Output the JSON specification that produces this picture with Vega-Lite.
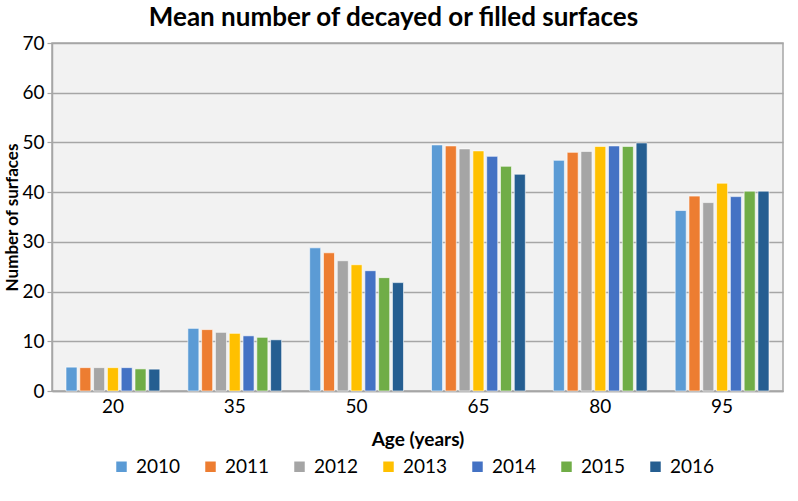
{
  "$schema": "https://vega.github.io/schema/vega-lite/v6.json",
  "autosize": {"type": "none"},
  "width": 731,
  "height": 348,
  "padding": {"left": 52, "top": 43, "right": 15, "bottom": 110},
  "background": "white",
  "title": {"text": "Mean number of decayed or filled surfaces", "font": "Lato", "fontSize": 26, "fontWeight": "bold", "color": "#000000", "anchor": "middle", "frame": "bounds", "offset": 3},
  "data": {"values": [
    {"age": "20", "year": "2010", "value": 4.8},
    {"age": "20", "year": "2011", "value": 4.7},
    {"age": "20", "year": "2012", "value": 4.7},
    {"age": "20", "year": "2013", "value": 4.7},
    {"age": "20", "year": "2014", "value": 4.7},
    {"age": "20", "year": "2015", "value": 4.45},
    {"age": "20", "year": "2016", "value": 4.4},
    {"age": "35", "year": "2010", "value": 12.6},
    {"age": "35", "year": "2011", "value": 12.35},
    {"age": "35", "year": "2012", "value": 11.8},
    {"age": "35", "year": "2013", "value": 11.6},
    {"age": "35", "year": "2014", "value": 11.1},
    {"age": "35", "year": "2015", "value": 10.8},
    {"age": "35", "year": "2016", "value": 10.3},
    {"age": "50", "year": "2010", "value": 28.8},
    {"age": "50", "year": "2011", "value": 27.8},
    {"age": "50", "year": "2012", "value": 26.2},
    {"age": "50", "year": "2013", "value": 25.4},
    {"age": "50", "year": "2014", "value": 24.2},
    {"age": "50", "year": "2015", "value": 22.8},
    {"age": "50", "year": "2016", "value": 21.8},
    {"age": "65", "year": "2010", "value": 49.5},
    {"age": "65", "year": "2011", "value": 49.3},
    {"age": "65", "year": "2012", "value": 48.7},
    {"age": "65", "year": "2013", "value": 48.3},
    {"age": "65", "year": "2014", "value": 47.2},
    {"age": "65", "year": "2015", "value": 45.2},
    {"age": "65", "year": "2016", "value": 43.6},
    {"age": "80", "year": "2010", "value": 46.4},
    {"age": "80", "year": "2011", "value": 48.0},
    {"age": "80", "year": "2012", "value": 48.2},
    {"age": "80", "year": "2013", "value": 49.2},
    {"age": "80", "year": "2014", "value": 49.3},
    {"age": "80", "year": "2015", "value": 49.2},
    {"age": "80", "year": "2016", "value": 49.9},
    {"age": "95", "year": "2010", "value": 36.3},
    {"age": "95", "year": "2011", "value": 39.2},
    {"age": "95", "year": "2012", "value": 37.9},
    {"age": "95", "year": "2013", "value": 41.8},
    {"age": "95", "year": "2014", "value": 39.1},
    {"age": "95", "year": "2015", "value": 40.2},
    {"age": "95", "year": "2016", "value": 40.2}
  ]},
  "mark": {"type": "bar", "stroke": "white", "strokeWidth": 0.6},
  "encoding": {
    "x": {"field": "age", "type": "nominal", "sort": null,
      "scale": {"paddingInner": 0.23, "paddingOuter": 0.115},
      "axis": {"title": "Age (years)", "labelAngle": 0, "labelFont": "Lato", "labelFontSize": 19, "labelColor": "#000000", "labelPadding": 6,
        "titleFont": "Lato", "titleFontSize": 19, "titleFontWeight": "bold", "titleColor": "#000000", "titlePadding": 14,
        "domainColor": "#A6A6A6", "domainWidth": 1.5, "ticks": false}},
    "xOffset": {"field": "year", "type": "nominal", "scale": {"paddingInner": 0.2}},
    "y": {"field": "value", "type": "quantitative",
      "scale": {"domain": [0, 70]},
      "axis": {"title": "Number of surfaces", "values": [0, 10, 20, 30, 40, 50, 60, 70], "labelFont": "Lato", "labelFontSize": 19, "labelColor": "#000000", "labelPadding": 3,
        "titleFont": "Lato", "titleFontSize": 17, "titleFontWeight": "bold", "titleColor": "#000000", "titlePadding": 0,
        "gridColor": "#A6A6A6", "gridWidth": 1.5, "domainColor": "#A6A6A6", "domainWidth": 1.5, "tickColor": "#A6A6A6", "tickSize": 5, "tickWidth": 1.2}},
    "color": {"field": "year", "type": "nominal",
      "scale": {"domain": ["2010", "2011", "2012", "2013", "2014", "2015", "2016"],
        "range": ["#5B9BD5", "#ED7D31", "#A5A5A5", "#FFC000", "#4472C4", "#70AD47", "#255E91"]},
      "legend": {"title": null, "orient": "none", "direction": "horizontal", "legendX": 60, "legendY": 414, "columns": 7,
        "symbolType": "square", "symbolSize": 110, "symbolStrokeWidth": 0, "labelFont": "Lato", "labelFontSize": 19, "labelColor": "#000000",
        "labelOffset": 5, "columnPadding": 20}}
  },
  "config": {
    "view": {"fill": "#F2F2F2", "stroke": "#A6A6A6", "strokeWidth": 1.5}
  }
}
